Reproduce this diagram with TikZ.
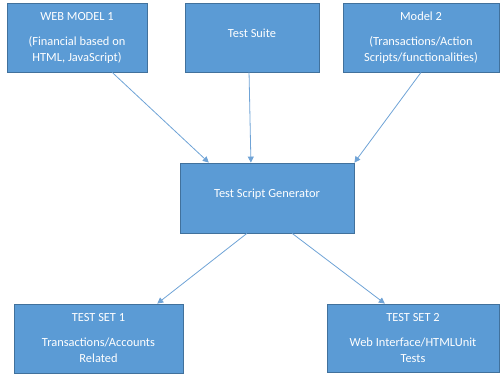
\documentclass[tikz,border=0pt]{standalone}
\usepackage{fontspec}
\setmainfont{Carlito}
\usetikzlibrary{calc,arrows.meta}
\definecolor{boxfill}{HTML}{5B9BD5}
\definecolor{boxline}{HTML}{41719C}
\definecolor{linkcol}{HTML}{6FA3D6}
\begin{document}
\begin{tikzpicture}[x=1pt,y=-1pt,
  box/.style={draw=boxline,fill=boxfill,line width=0.8pt,text=white,
    align=center,inner sep=0pt,
    font=\fontsize{12.4}{16}\selectfont},
  link/.style={draw=linkcol,line width=0.8pt,
    -{Triangle[width=6pt,length=6pt]}}]
\useasboundingbox (0,0) rectangle (502,375);

% top row
\node[box,minimum width=140pt,minimum height=69pt] (wm) at (77,37.5)
  {WEB MODEL 1\\[9pt](Financial based on\\HTML, JavaScript)};
\node[box,minimum width=134pt,minimum height=69pt] (ts) at (252,37.5)
  {\raisebox{9pt}{Test Suite}};
\node[box,minimum width=156pt,minimum height=69pt] (m2) at (421,37.5)
  {Model 2\\[9pt](Transactions/Action\\Scripts/functionalities)};

% generator
\node[box,minimum width=174pt,minimum height=70pt] (tsg) at (267,198)
  {\raisebox{10pt}{Test Script Generator}};

% bottom row
\node[box,minimum width=169pt,minimum height=69pt] (s1) at (98.5,338.5)
  {TEST SET 1\\[9pt]Transactions/Accounts\\Related};
\node[box,minimum width=172pt,minimum height=68pt] (s2) at (413,338)
  {TEST SET 2\\[9pt]Web Interface/HTMLUnit\\Tests};

% connectors
\draw[link] ($(wm.south west)!0.75!(wm.south east)$)
  -- ($(tsg.north west)!0.167!(tsg.north east)$);
\draw[link] ($(ts.south west)!0.478!(ts.south east)$)
  -- ($(tsg.north west)!0.408!(tsg.north east)$);
\draw[link] (m2.south) -- (tsg.north east);
\draw[link] ($(tsg.south west)!0.385!(tsg.south east)$)
  -- ($(s1.north west)!0.846!(s1.north east)$);
\draw[link] ($(tsg.south west)!0.644!(tsg.south east)$)
  -- ($(s2.north west)!0.337!(s2.north east)$);
\end{tikzpicture}
\end{document}
